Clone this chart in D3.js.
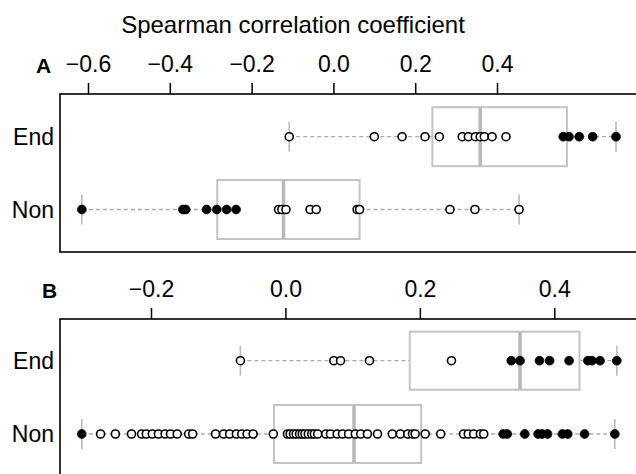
<!DOCTYPE html>
<html><head><meta charset="utf-8">
<script src="https://cdn.jsdelivr.net/npm/d3@7"></script>
<style>body{margin:0;background:#fff}svg{display:block}</style>
</head><body><svg id="c" width="636" height="474"></svg>
<script>
const rows = ["End", "Non"];
const titleText = "Spearman correlation coefficient";
// Panel A
const ticksA = [-0.6, -0.4, -0.2, 0.0, 0.2, 0.4];
const aEndOpen = [-0.108, 0.100, 0.168, 0.224, 0.259, 0.315, 0.330, 0.347, 0.359, 0.369, 0.388, 0.422];
const aEndFilled = [0.562, 0.576, 0.601, 0.634, 0.691];
const aNonOpen = [-0.134, -0.126, -0.116, -0.057, -0.042, 0.058, 0.064, 0.285, 0.346, 0.454];
const aNonFilled = [-0.615, -0.368, -0.361, -0.310, -0.285, -0.261, -0.238];
const aEndBox = [-0.108, 0.242, 0.359, 0.571, 0.691];
const aNonBox = [-0.615, -0.284, -0.122, 0.064, 0.454];
// Panel B
const ticksB = [-0.2, 0.0, 0.2, 0.4];
const bEndOpen = [-0.067, 0.072, 0.082, 0.125, 0.247];
const bEndFilled = [0.336, 0.349, 0.378, 0.393, 0.422, 0.450, 0.456, 0.468, 0.493];
const bNonOpen = [-0.275, -0.253, -0.229, -0.214, -0.207, -0.198, -0.189, -0.179, -0.171, -0.161, -0.144, -0.138,
  -0.104, -0.092, -0.083, -0.073, -0.065, -0.057, -0.048, -0.018, 0.003, 0.007, 0.012, 0.016, 0.021, 0.025, 0.029,
  0.034, 0.039, 0.043, 0.048, 0.060, 0.067, 0.077, 0.085, 0.094, 0.104, 0.112, 0.122, 0.137, 0.159, 0.171, 0.182,
  0.189, 0.193, 0.208, 0.231, 0.265, 0.272, 0.280, 0.290, 0.295];
const bNonFilled = [-0.303, 0.324, 0.330, 0.356, 0.376, 0.382, 0.390, 0.412, 0.420, 0.445, 0.490];
const bEndBox = [-0.067, 0.185, 0.349, 0.4375, 0.493];
const bNonBox = [-0.303, -0.017, 0.102, 0.202, 0.490];

const svg = d3.select("#c");
const font = "'Liberation Sans', Arial, Helvetica, sans-serif";
const fmt = d3.format(".1f");

svg.append("text").attr("x", 293).attr("y", 33).attr("text-anchor", "middle")
  .attr("font-family", font).attr("font-size", 24).text(titleText);

function panel(cfg) {
  const g = svg.append("g");
  const x = d3.scaleLinear().domain(cfg.domain).range(cfg.range);
  const y = d3.scalePoint().domain(rows).range(cfg.rowY);
  g.append("rect").attr("x", 60).attr("y", cfg.top).attr("width", 600).attr("height", cfg.bottom - cfg.top)
    .attr("fill", "none").attr("stroke", "#000").attr("stroke-width", 1.6);
  const ax = d3.axisTop(x).tickValues(cfg.ticks).tickFormat(fmt).tickSize(11).tickPadding(11);
  const axg = g.append("g").attr("transform", `translate(0,${cfg.top})`).call(ax);
  axg.select(".domain").remove();
  axg.selectAll(".tick line").attr("stroke", "#000").attr("stroke-width", 1.5);
  axg.selectAll(".tick text").attr("font-family", font).attr("font-size", 23).attr("fill", "#000");
  g.append("text").attr("x", cfg.letterX).attr("y", cfg.top - 21).attr("font-family", font)
    .attr("font-weight", "bold").attr("font-size", 21).text(cfg.letter);
  g.selectAll(".rl").data(rows).join("text").attr("x", 54).attr("y", d => y(d) + 8)
    .attr("text-anchor", "end").attr("font-family", font).attr("font-size", 23).text(d => d);
  const bh = cfg.boxH;
  cfg.boxes.forEach((b, i) => {
    const cy = y(rows[i]);
    const bg = g.append("g");
    [[b[0], b[1]], [b[3], b[4]]].forEach(s => {
      bg.append("line").attr("x1", x(s[0])).attr("x2", x(s[1])).attr("y1", cy).attr("y2", cy)
        .attr("stroke", "#aaa").attr("stroke-width", 1.3).attr("stroke-dasharray", "4,3");
    });
    [b[0], b[4]].forEach(v => {
      bg.append("line").attr("x1", x(v)).attr("x2", x(v)).attr("y1", cy - 15).attr("y2", cy + 15)
        .attr("stroke", "#bbb").attr("stroke-width", 1.6);
    });
    bg.append("rect").attr("x", x(b[1])).attr("y", cy - bh / 2).attr("width", x(b[3]) - x(b[1])).attr("height", bh)
      .attr("fill", "none").attr("stroke", "#c4c4c4").attr("stroke-width", 2);
    bg.append("line").attr("x1", x(b[2])).attr("x2", x(b[2])).attr("y1", cy - bh / 2).attr("y2", cy + bh / 2)
      .attr("stroke", "#b8b8b8").attr("stroke-width", 3.5);
  });
  cfg.points.forEach((p, i) => {
    const cy = y(rows[i]);
    g.append("g").selectAll("circle").data(p.open).join("circle")
      .attr("cx", d => x(d)).attr("cy", cy).attr("r", 4)
      .attr("fill", "#fff").attr("stroke", "#000").attr("stroke-width", 1.6);
    g.append("g").selectAll("circle").data(p.filled).join("circle")
      .attr("cx", d => x(d)).attr("cy", cy).attr("r", 4.4)
      .attr("fill", "#000").attr("stroke", "#000").attr("stroke-width", 0.8);
  });
}

panel({
  domain: [-0.6, 0.4], range: [88, 497], ticks: ticksA, top: 94, bottom: 252,
  rowY: [136.7, 209.5], boxH: 59, letter: "A", letterX: 36,
  boxes: [aEndBox, aNonBox],
  points: [{ open: aEndOpen, filled: aEndFilled }, { open: aNonOpen, filled: aNonFilled }]
});
panel({
  domain: [-0.2, 0.4], range: [151, 554.3], ticks: ticksB, top: 319, bottom: 520,
  rowY: [360.7, 434], boxH: 58, letter: "B", letterX: 42,
  boxes: [bEndBox, bNonBox],
  points: [{ open: bEndOpen, filled: bEndFilled }, { open: bNonOpen, filled: bNonFilled }]
});
</script></body></html>
